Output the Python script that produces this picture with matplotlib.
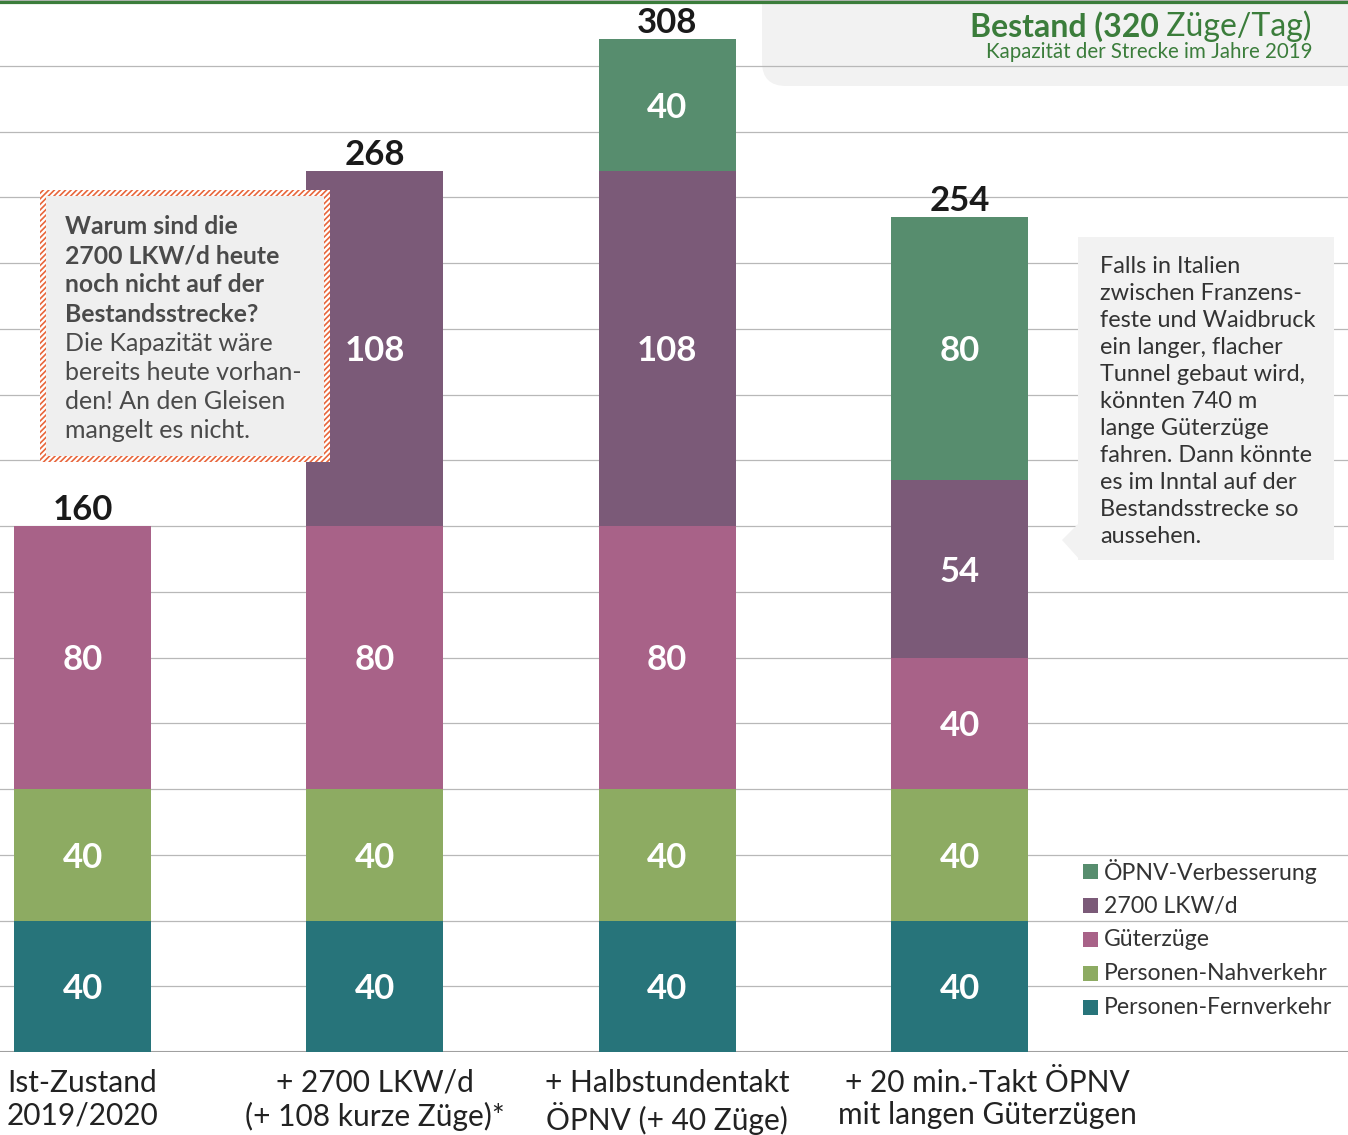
import numpy as np
import matplotlib.pyplot as plt
from matplotlib.patches import Rectangle, FancyBboxPatch, Polygon
from matplotlib.lines import Line2D
import matplotlib.transforms as mtransforms

plt.rcParams['font.family'] = ['Lato', 'DejaVu Sans']

# Daten (Züge pro Tag)
categories = ['Ist-Zustand\n2019/2020',
              '+ 2700 LKW/d\n(+ 108 kurze Züge)*',
              '+ Halbstundentakt\nÖPNV (+ 40 Züge)',
              '+ 20 min.-Takt ÖPNV\nmit langen Güterzügen']
series_names = ['Personen-Fernverkehr', 'Personen-Nahverkehr', 'Güterzüge',
                '2700 LKW/d', 'ÖPNV-Verbesserung']
fernverkehr = [40, 40, 40, 40]
nahverkehr = [40, 40, 40, 40]
gueterzuege = [80, 80, 80, 40]
lkw = [0, 108, 108, 54]
oepnv = [0, 0, 40, 80]
capacity = 320

series_colors = ['#27747a', '#8dab62', '#a86288', '#7b5a78', '#578d6e']
green = '#3b7d3b'

box_left_lines = [('Warum sind die', True), ('2700 LKW/d heute', True),
                  ('noch nicht auf der', True), ('Bestandsstrecke?', True),
                  ('Die Kapazität wäre', False), ('bereits heute vorhan-', False),
                  ('den! An den Gleisen', False), ('mangelt es nicht.', False)]
box_right_lines = ['Falls in Italien', 'zwischen Franzens-', 'feste und Waidbruck',
                   'ein langer, flacher', 'Tunnel gebaut wird,', 'könnten 740 m',
                   'lange Güterzüge', 'fahren. Dann könnte', 'es im Inntal auf der',
                   'Bestandsstrecke so', 'aussehen.']

W, H = 1348, 1135
fig = plt.figure(figsize=(W / 100, H / 100), dpi=100)

# Hintergrund-Ebene (Pixel-Koordinaten)
bg = fig.add_axes([0, 0, 1, 1], zorder=0)
bg.set_xlim(0, W); bg.set_ylim(H, 0); bg.axis('off')
bg.add_patch(FancyBboxPatch((762, -60), 700, 146,
                            boxstyle='round,pad=0,rounding_size=24',
                            facecolor='#f2f2f2', edgecolor='none'))

# Hauptdiagramm
ax = fig.add_axes([0, 83 / H, 1, 1052 / H], zorder=1)
ax.patch.set_visible(False)
x = np.arange(len(categories))
ax.set_xlim(-0.2823, 4.329)
ax.set_ylim(0, capacity)
ax.set_yticks(np.arange(0, capacity + 1, 20))
ax.yaxis.grid(True, color='#b8b8b8', lw=0.9)
ax.set_axisbelow(True)
ax.tick_params(left=False, labelleft=False, bottom=False, labelbottom=False)
ax.set_xticks([])
for s in ax.spines.values():
    s.set_visible(False)
ax.axhline(0, color='#a0a0a0', lw=1.5, zorder=1)

series = [fernverkehr, nahverkehr, gueterzuege, lkw, oepnv]
bottom = np.zeros(len(x))
for vals, color in zip(series, series_colors):
    vals = np.array(vals, dtype=float)
    ax.bar(x, vals, bottom=bottom, width=0.469, color=color, zorder=2)
    for xi, v, b in zip(x, vals, bottom):
        if v > 0:
            ax.annotate(f'{v:.0f}', (xi, b + v / 2), xytext=(0, -2),
                        textcoords='offset points', ha='center', va='center',
                        color='white', fontsize=25, fontweight='bold', zorder=3)
    bottom += vals

for xi, total in zip(x, bottom):
    ax.annotate(f'{total:.0f}', (xi, total), xytext=(0, 0), textcoords='offset points',
                ha='center', va='bottom', fontsize=25, fontweight='bold',
                color='#1a1a1a', zorder=3)

# Kategorienbeschriftung
trans = mtransforms.blended_transform_factory(ax.transData, ax.transAxes)
offsets = [0, 0, 0, 20]
for xi, label, dx in zip(x, categories, offsets):
    ax.annotate(label, (xi, 0), xycoords=trans, xytext=(dx, -12),
                textcoords='offset points', ha='center', va='top',
                fontsize=21.5, color='#222222', linespacing=1.2,
                annotation_clip=False)

# Vordergrund-Ebene
fg = fig.add_axes([0, 0, 1, 1], zorder=2)
fg.set_xlim(0, W); fg.set_ylim(H, 0); fg.axis('off')

# obere Linie (Kapazität)
fg.add_line(Line2D([0, W], [1.5, 1.5], color=green, lw=2.3))
t = fg.text(1312, 36, ' Züge/Tag)', ha='right', va='baseline',
            fontsize=23, color=green)
fg.annotate('Bestand (320', xy=(0, 0), xycoords=t, ha='right', va='bottom',
            fontsize=23, fontweight='bold', color=green)
fg.text(1312, 58, 'Kapazität der Strecke im Jahre 2019', ha='right',
        va='baseline', fontsize=14.8, color=green)

# linker Kasten
plt.rcParams['hatch.linewidth'] = 1.2
fg.add_patch(Rectangle((40, 190), 290, 272, facecolor='white',
                       edgecolor='#e8663c', lw=0, hatch='//////'))
fg.add_patch(Rectangle((46, 196), 278, 260, facecolor='#efefef', edgecolor='none'))
for i, (line, bold) in enumerate(box_left_lines):
    fg.text(65, 234 + i * 29.2, line, ha='left', va='baseline',
            fontsize=17.8 if bold else 18,
            fontweight='bold' if bold else 'normal', color='#4a4a4a')

# rechter Kasten
fg.add_patch(Rectangle((1078, 237), 256, 323, facecolor='#f2f2f2', edgecolor='none'))
fg.add_patch(Polygon([(1080, 522), (1062, 540), (1080, 560)], closed=True,
                     facecolor='#f2f2f2', edgecolor='none'))
for i, line in enumerate(box_right_lines):
    fg.text(1100, 273 + i * 27, line, ha='left', va='baseline', fontsize=16.9,
            color='#333333')

# Legende
for i, (name, color) in enumerate(zip(series_names[::-1], series_colors[::-1])):
    yc = 872 + i * 34
    fg.add_patch(Rectangle((1083, yc - 8), 15, 15, facecolor=color, edgecolor='none'))
    fg.text(1104, yc, name, ha='left', va='center', fontsize=16.6, color='#333333')

fig.savefig('out.png', dpi=100, facecolor='white')
